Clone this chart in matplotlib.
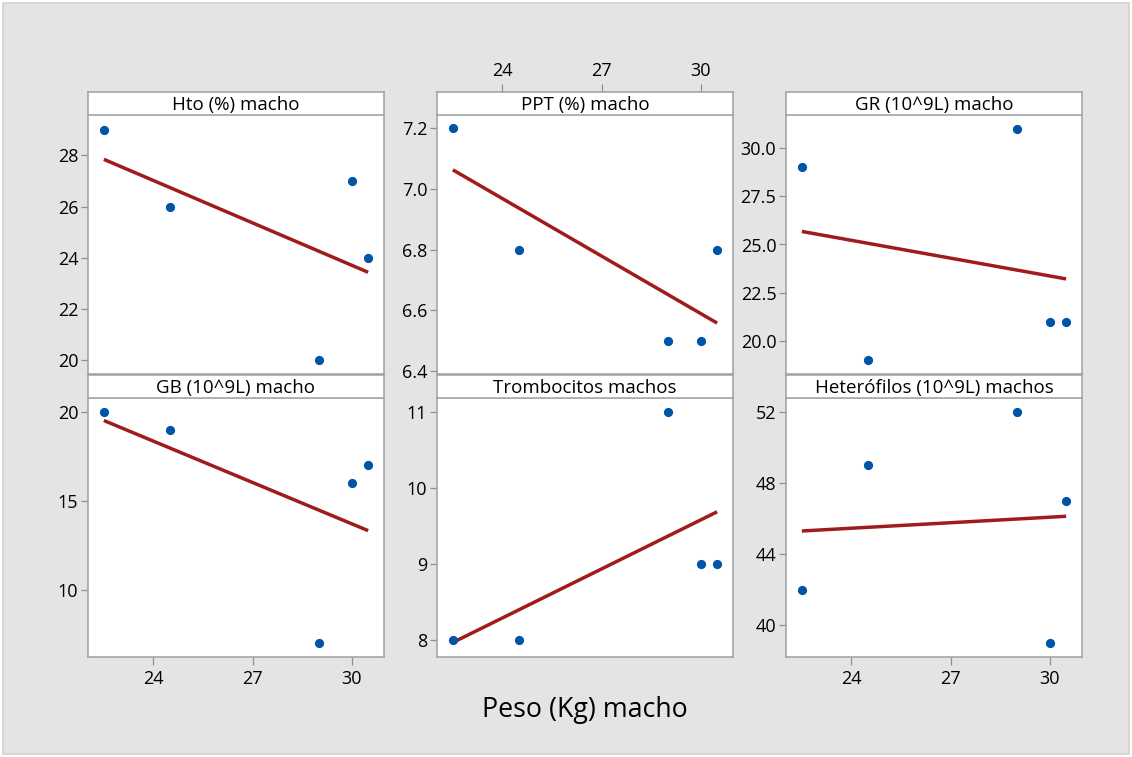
import numpy as np
import matplotlib
matplotlib.use("Agg")
import matplotlib.pyplot as plt
from matplotlib.patches import Rectangle
from matplotlib.ticker import FormatStrFormatter

# ---- data ----
peso = [22.5, 24.5, 29.0, 30.0, 30.5]
hto = [29, 26, 20, 27, 24]
ppt = [7.2, 6.8, 6.5, 6.5, 6.8]
gr = [29, 19, 31, 21, 21]
gb = [20, 19, 7, 16, 17]
tromb = [8, 8, 11, 9, 9]
hetero = [42, 49, 52, 39, 47]

titles = ["Hto (%) macho", "PPT (%) macho", "GR (10^9L) macho",
          "GB (10^9L) macho", "Trombocitos machos", "Heterófilos (10^9L) machos"]
series = [hto, ppt, gr, gb, tromb, hetero]
yticks = [[20, 22, 24, 26, 28], [6.4, 6.6, 6.8, 7.0, 7.2],
          [20.0, 22.5, 25.0, 27.5, 30.0], [10, 15, 20],
          [8, 9, 10, 11], [40, 44, 48, 52]]
yfmt = ["%d", "%.1f", "%.1f", "%d", "%d", "%d"]
xticks = [24, 27, 30]
xlabel = "Peso (Kg) macho"

# ---- layout ----
W, H = 1132, 757
ylims = [(19.46, 29.58), (6.39, 7.244), (18.28, 31.72),
         (6.22, 20.78), (7.78, 11.18), (38.22, 52.78)]
xlim = (22.02, 30.98)
col_left = [88, 437, 786]
col_w = 296
row_strip_top = [92, 375]
strip_h = 23
data_h = 259

plt.rcParams['font.family'] = ['Open Sans', 'DejaVu Sans']
edge = "#a0a0a0"
tickc = "#909090"
dot_color = "#0054a6"
fit_color = "#a01c1c"
tick_fs = 13
title_fs = 13.5

fig = plt.figure(figsize=(W / 100, H / 100), dpi=100, facecolor="white")
fig.patches.append(Rectangle((3 / W, 3 / H), 1126 / W, 751 / H,
                             transform=fig.transFigure, facecolor="#e4e4e4",
                             edgecolor="#d2d2d2", linewidth=1.2, zorder=-10))


def frac(x0, ytop, w, h):
    return [x0 / W, 1 - (ytop + h) / H, w / W, h / H]


for i, (title, ys) in enumerate(zip(titles, series)):
    r, c = divmod(i, 3)
    st = row_strip_top[r]
    ax = fig.add_axes(frac(col_left[c], st + strip_h, col_w, data_h))
    sx = fig.add_axes(frac(col_left[c], st, col_w, strip_h))

    ax.set_facecolor("white")
    ax.scatter(peso, ys, s=44, color=dot_color, zorder=3, linewidths=0)
    slope, icpt = np.polyfit(peso, ys, 1)
    xs = np.array([min(peso), max(peso)])
    ax.plot(xs, slope * xs + icpt, color=fit_color, lw=2.5, zorder=2,
            solid_capstyle="butt")
    ax.set_xlim(*xlim)
    ax.set_ylim(*ylims[i])
    ax.set_yticks(yticks[i])
    ax.yaxis.set_major_formatter(FormatStrFormatter(yfmt[i]))
    ax.tick_params(axis="y", direction="out", length=5, width=0.9,
                   color=tickc, labelsize=tick_fs, pad=2, labelcolor="black")
    for s in ax.spines.values():
        s.set_color(edge)
        s.set_linewidth(1.1)
    ax.spines["top"].set_color("#cfcfcf")

    # x ticks only on outer bottom of columns 1/3, top of column 2
    if r == 1 and c != 1:
        ax.set_xticks(xticks)
        ax.tick_params(axis="x", direction="out", length=6, width=0.9,
                       color=tickc, labelsize=tick_fs, pad=3)
    else:
        ax.set_xticks([])

    sx.set_facecolor("white")
    sx.set_xlim(*xlim)
    sx.set_yticks([])
    if r == 0 and c == 1:
        sx.set_xticks(xticks)
        sx.xaxis.tick_top()
        sx.tick_params(axis="x", direction="out", length=6, width=0.9,
                       color=tickc, labelsize=tick_fs, pad=3)
    else:
        sx.set_xticks([])
    for s in sx.spines.values():
        s.set_color(edge)
        s.set_linewidth(1.1)
    sx.text(0.5, 0.45, title, transform=sx.transAxes, ha="center",
            va="center", fontsize=title_fs, color="black")

fig.text(585 / W, 1 - 710 / H, xlabel, ha="center", va="center",
         fontsize=19.3, color="black")

fig.savefig("out.png", dpi=100, facecolor=fig.get_facecolor())
